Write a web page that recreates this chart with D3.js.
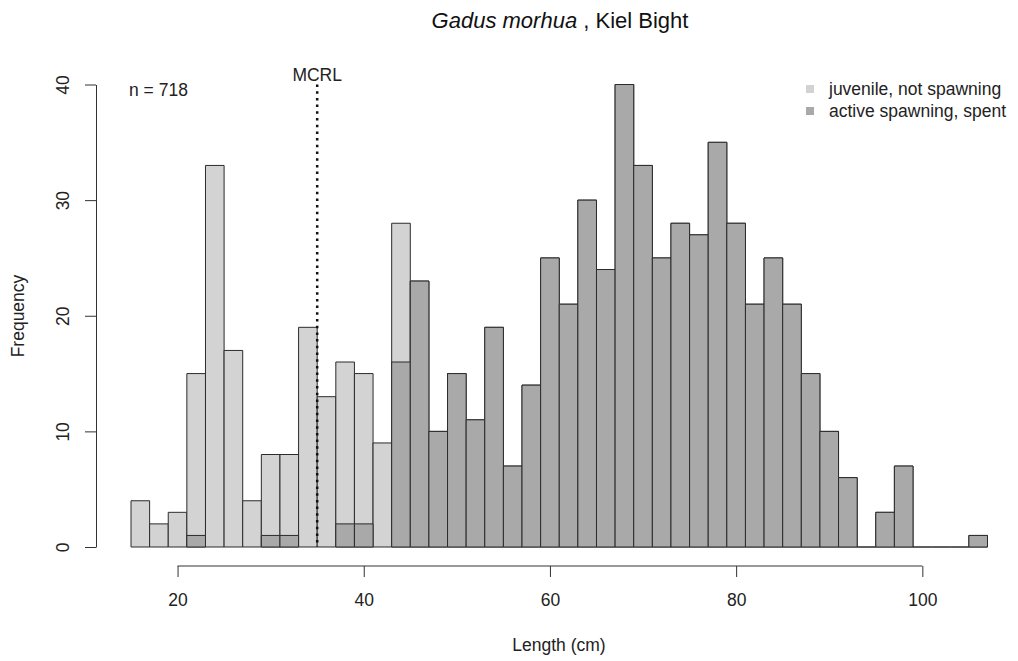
<!DOCTYPE html>
<html>
<head>
<meta charset="utf-8">
<script src="https://cdn.jsdelivr.net/npm/d3@7/dist/d3.min.js"></script>
<style>
  html, body { margin: 0; padding: 0; background: #fff; }
  svg { display: block; font-family: "Liberation Sans", Arial, sans-serif; }
</style>
</head>
<body>
<svg id="chart" width="1018" height="661"></svg>
<script>
// Length-class breaks (cm), 2 cm wide
const binBreaks = d3.range(15, 108, 2);
// All fish per length class
const totalCounts = [4, 2, 3, 15, 33, 17, 4, 8, 8, 19, 13, 16, 15, 9, 28, 23, 10, 15, 11, 19, 7, 14, 25, 21, 30, 24, 40, 33, 25, 28, 27, 35, 28, 21, 25, 21, 15, 10, 6, 0, 3, 7, 0, 0, 0, 1];
// Actively spawning or spent fish per length class
const spawningCounts = [0, 0, 0, 1, 0, 0, 0, 1, 1, 0, 0, 2, 2, 0, 16, 23, 10, 15, 11, 19, 7, 14, 25, 21, 30, 24, 40, 33, 25, 28, 27, 35, 28, 21, 25, 21, 15, 10, 6, 0, 3, 7, 0, 0, 0, 1];
const xTicks = [20, 40, 60, 80, 100];
const yTicks = [0, 10, 20, 30, 40];
const mcrl = 35;
const sampleSize = 718;
const legendLabels = ["juvenile, not spawning", "active spawning, spent"];
const fillColors = ["#d3d3d3", "#a9a9a9"];

const FONT = 17.5;
const svg = d3.select("#chart");
const x = d3.scaleLinear().domain([15, 107]).range([131, 987.5]);
const y = d3.scaleLinear().domain([0, 40]).range([547, 84.5]);

const bins = totalCounts.map((c, i) => ({ x0: binBreaks[i], x1: binBreaks[i + 1], total: c, spawn: spawningCounts[i] }));

function barPath(x0, x1, v) {
  const a = x(x0), b = x(x1), t = y(v), base = y(0);
  return `M${a},${base}V${t}H${b}V${base}Z`;
}

// Total histogram
svg.append("g").selectAll("path").data(bins).join("path")
  .attr("d", d => barPath(d.x0, d.x1, d.total))
  .attr("fill", fillColors[0])
  .attr("stroke", "#2b2b2b").attr("stroke-width", 1);

// Spawning histogram drawn on top
svg.append("g").selectAll("path").data(bins.filter(d => d.spawn > 0)).join("path")
  .attr("d", d => barPath(d.x0, d.x1, d.spawn))
  .attr("fill", fillColors[1])
  .attr("stroke", "#2b2b2b").attr("stroke-width", 1);

// Y axis
const yAxis = svg.append("g").attr("transform", "translate(96,0)")
  .call(d3.axisLeft(y).tickValues(yTicks).tickSize(11).tickSizeOuter(0));
yAxis.select(".domain").attr("stroke", "#333");
yAxis.selectAll(".tick line").attr("stroke", "#333");
yAxis.selectAll(".tick text")
  .attr("font-size", FONT).attr("fill", "#222").attr("font-family", "Liberation Sans, Arial, sans-serif")
  .attr("text-anchor", "middle")
  .attr("x", 0).attr("y", 0).attr("dy", "0.35em")
  .attr("transform", "translate(-33,0) rotate(-90)");

// X axis
const xAxis = svg.append("g").attr("transform", "translate(0,566)")
  .call(d3.axisBottom(x).tickValues(xTicks).tickSize(11).tickSizeOuter(0));
xAxis.select(".domain").attr("d", `M${x(20)},0H${x(100)}`).attr("stroke", "#333");
xAxis.selectAll(".tick line").attr("stroke", "#333");
xAxis.selectAll(".tick text")
  .attr("font-size", FONT).attr("fill", "#222").attr("font-family", "Liberation Sans, Arial, sans-serif")
  .attr("y", 34).attr("dy", "0.35em");

// Axis titles
svg.append("text").attr("x", 559).attr("y", 645).attr("dy", "0.35em")
  .attr("text-anchor", "middle").attr("font-size", FONT).attr("fill", "#222").text("Length (cm)");
svg.append("text").attr("transform", "translate(18,316) rotate(-90)").attr("dy", "0.35em")
  .attr("text-anchor", "middle").attr("font-size", FONT).attr("fill", "#222").text("Frequency");

// Title
const title = svg.append("text").attr("x", 560).attr("y", 20).attr("dy", "0.35em")
  .attr("text-anchor", "middle").attr("font-size", 22).attr("fill", "#111");
title.append("tspan").attr("font-style", "italic").text("Gadus morhua");
title.append("tspan").text(" , Kiel Bight");

// Maturity reference length
svg.append("line")
  .attr("x1", x(mcrl)).attr("x2", x(mcrl)).attr("y1", y(40)).attr("y2", y(0))
  .attr("stroke", "#111").attr("stroke-width", 2.5).attr("stroke-dasharray", "2.5,4.2");
svg.append("text").attr("x", x(mcrl)).attr("y", 75).attr("dy", "0.35em")
  .attr("text-anchor", "middle").attr("font-size", FONT).attr("fill", "#222").text("MCRL");

// Sample size
svg.append("text").attr("x", 129).attr("y", 90).attr("dy", "0.35em")
  .attr("font-size", FONT).attr("fill", "#222").text(`n = ${sampleSize}`);

// Legend
const legend = svg.append("g").selectAll("g").data(legendLabels).join("g")
  .attr("transform", (d, i) => `translate(806,${89 + i * 22})`);
legend.append("rect").attr("x", 0).attr("y", -4).attr("width", 8).attr("height", 8)
  .attr("fill", (d, i) => fillColors[i]);
legend.append("text").attr("x", 23).attr("y", 0).attr("dy", "0.35em")
  .attr("font-size", FONT).attr("fill", "#222").text(d => d);
</script>
</body>
</html>
